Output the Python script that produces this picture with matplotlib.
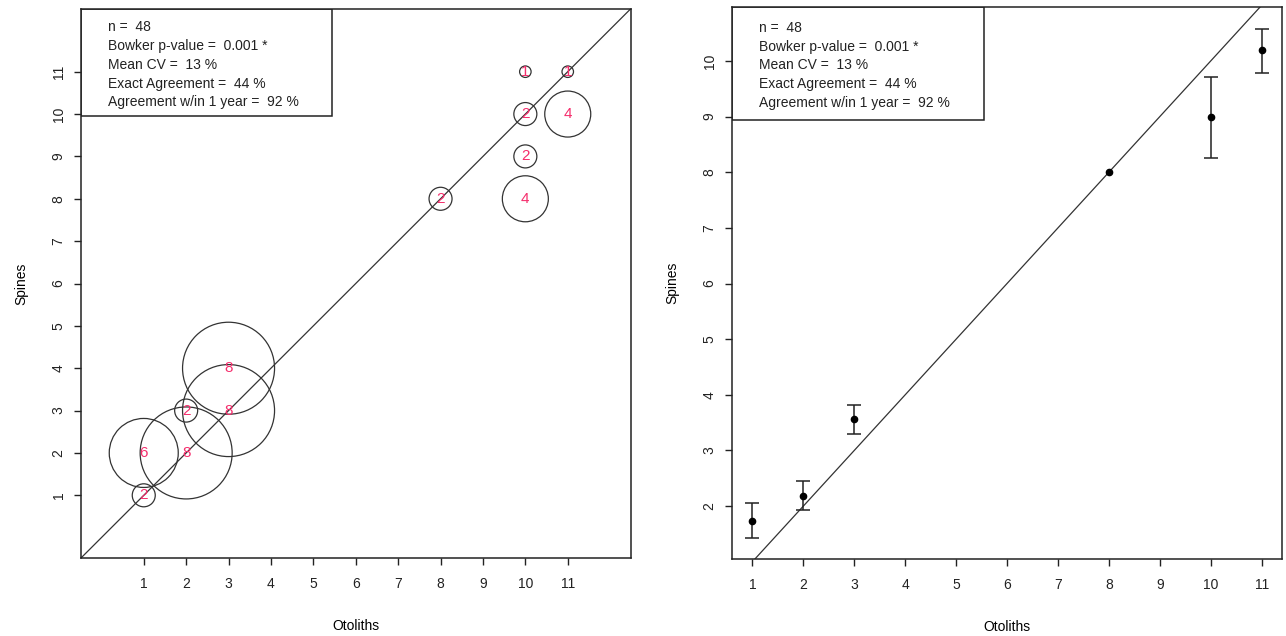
import matplotlib.pyplot as plt
import matplotlib.patches as mpatches
import numpy as np

plt.rcParams['font.family'] = ['Liberation Sans', 'DejaVu Sans']

# Bubble plot: otolith age vs spine age, number of fish per cell
otolith_ages = [1, 1, 2, 2, 3, 3, 8, 10, 10, 10, 10, 11, 11]
spine_ages = [1, 2, 2, 3, 3, 4, 8, 8, 9, 10, 11, 10, 11]
counts = [2, 6, 8, 2, 8, 8, 2, 4, 2, 2, 1, 4, 1]

# Mean spine age per otolith age with 95% CI
mean_otolith = [1, 2, 3, 8, 10, 11]
mean_spines = [1.73, 2.19, 3.56, 8.0, 9.0, 10.2]
ci_low = [1.42, 1.93, 3.29, np.nan, 8.26, 9.79]
ci_high = [2.05, 2.46, 3.82, np.nan, 9.72, 10.57]

stats_lines = [
    "n =  48",
    "Bowker p-value =  0.001 *",
    "Mean CV =  13 %",
    "Exact Agreement =  44 %",
    "Agreement w/in 1 year =  92 %",
]

W, H = 1286, 636
fig = plt.figure(figsize=(W / 100, H / 100), dpi=100)

ax1 = fig.add_axes([81 / W, 1 - 558 / H, (630.5 - 81) / W, (558 - 9) / H])
ax2 = fig.add_axes([732 / W, 1 - 559 / H, (1282 - 732) / W, (559 - 7) / H])


def estilo(ax):
    for s in ax.spines.values():
        s.set_linewidth(1.1)
        s.set_color('#222222')
    ax.tick_params(direction='out', length=5, width=1, labelsize=10,
                   colors='#222222')
    ax.tick_params(axis='x', pad=9)
    ax.tick_params(axis='y', pad=6)
    for lab in ax.get_yticklabels():
        lab.set_rotation(90)
        lab.set_va('center')
    ax.set_xlabel('Otoliths', fontsize=10, labelpad=20)
    ax.set_ylabel('Spines', fontsize=10, labelpad=17)


def caja_stats(ax, ancho, alto, y_lineas):
    rect = mpatches.Rectangle((0, 1 - alto), ancho, alto, transform=ax.transAxes,
                              fill=False, edgecolor='#222222', linewidth=1.1,
                              zorder=5)
    ax.add_patch(rect)
    for txt, y in zip(stats_lines, y_lineas):
        ax.text(0.049, y, txt, transform=ax.transAxes, fontsize=10,
                va='center', ha='left', color='#222222', zorder=6)


# ---------------- Left panel: bubbles ----------------
ax1.set_xlim(-0.48, 12.48)
ax1.set_ylim(-0.48, 12.48)
ax1.plot([-0.48, 12.48], [-0.48, 12.48], color='#333333', linewidth=0.9, zorder=1)
tamanos = [(8.28 * c) ** 2 for c in counts]
ax1.scatter(otolith_ages, spine_ages, s=tamanos, facecolors='none',
            edgecolors='#333333', linewidths=0.9, zorder=2)
for xo, ys, c in zip(otolith_ages, spine_ages, counts):
    ax1.text(xo, ys, str(c), color='#f52d6c', fontsize=11,
             ha='center', va='center', zorder=3)
ax1.set_xticks(range(1, 12))
ax1.set_yticks(range(1, 12))
estilo(ax1)
caja_stats(ax1, (332 - 81) / 549.5, (116 - 9) / 549,
           [1 - (py - 9) / 549 for py in [27, 46, 65, 84, 102]])

# ---------------- Right panel: means with CI ----------------
ax2.set_xlim(0.6, 11.4)
ax2.set_ylim(1.05, 10.97)
ax2.plot([1.05, 10.97], [1.05, 10.97], color='#333333', linewidth=0.9, zorder=1)
m = np.array(mean_spines)
err = np.array([m - np.array(ci_low), np.array(ci_high) - m])
ax2.errorbar(mean_otolith, mean_spines, yerr=err, fmt='o', color='black',
             markersize=4.5, ecolor='#222222', elinewidth=1.1, capsize=4.7,
             capthick=1.1, zorder=3)
ax2.set_xticks(range(1, 12))
ax2.set_yticks(range(2, 11))
estilo(ax2)
caja_stats(ax2, (984 - 732) / 550, (120 - 7) / 552,
           [1 - (py - 7) / 552 for py in [28, 47, 65, 84, 103]])

fig.savefig('out.png', dpi=100)
